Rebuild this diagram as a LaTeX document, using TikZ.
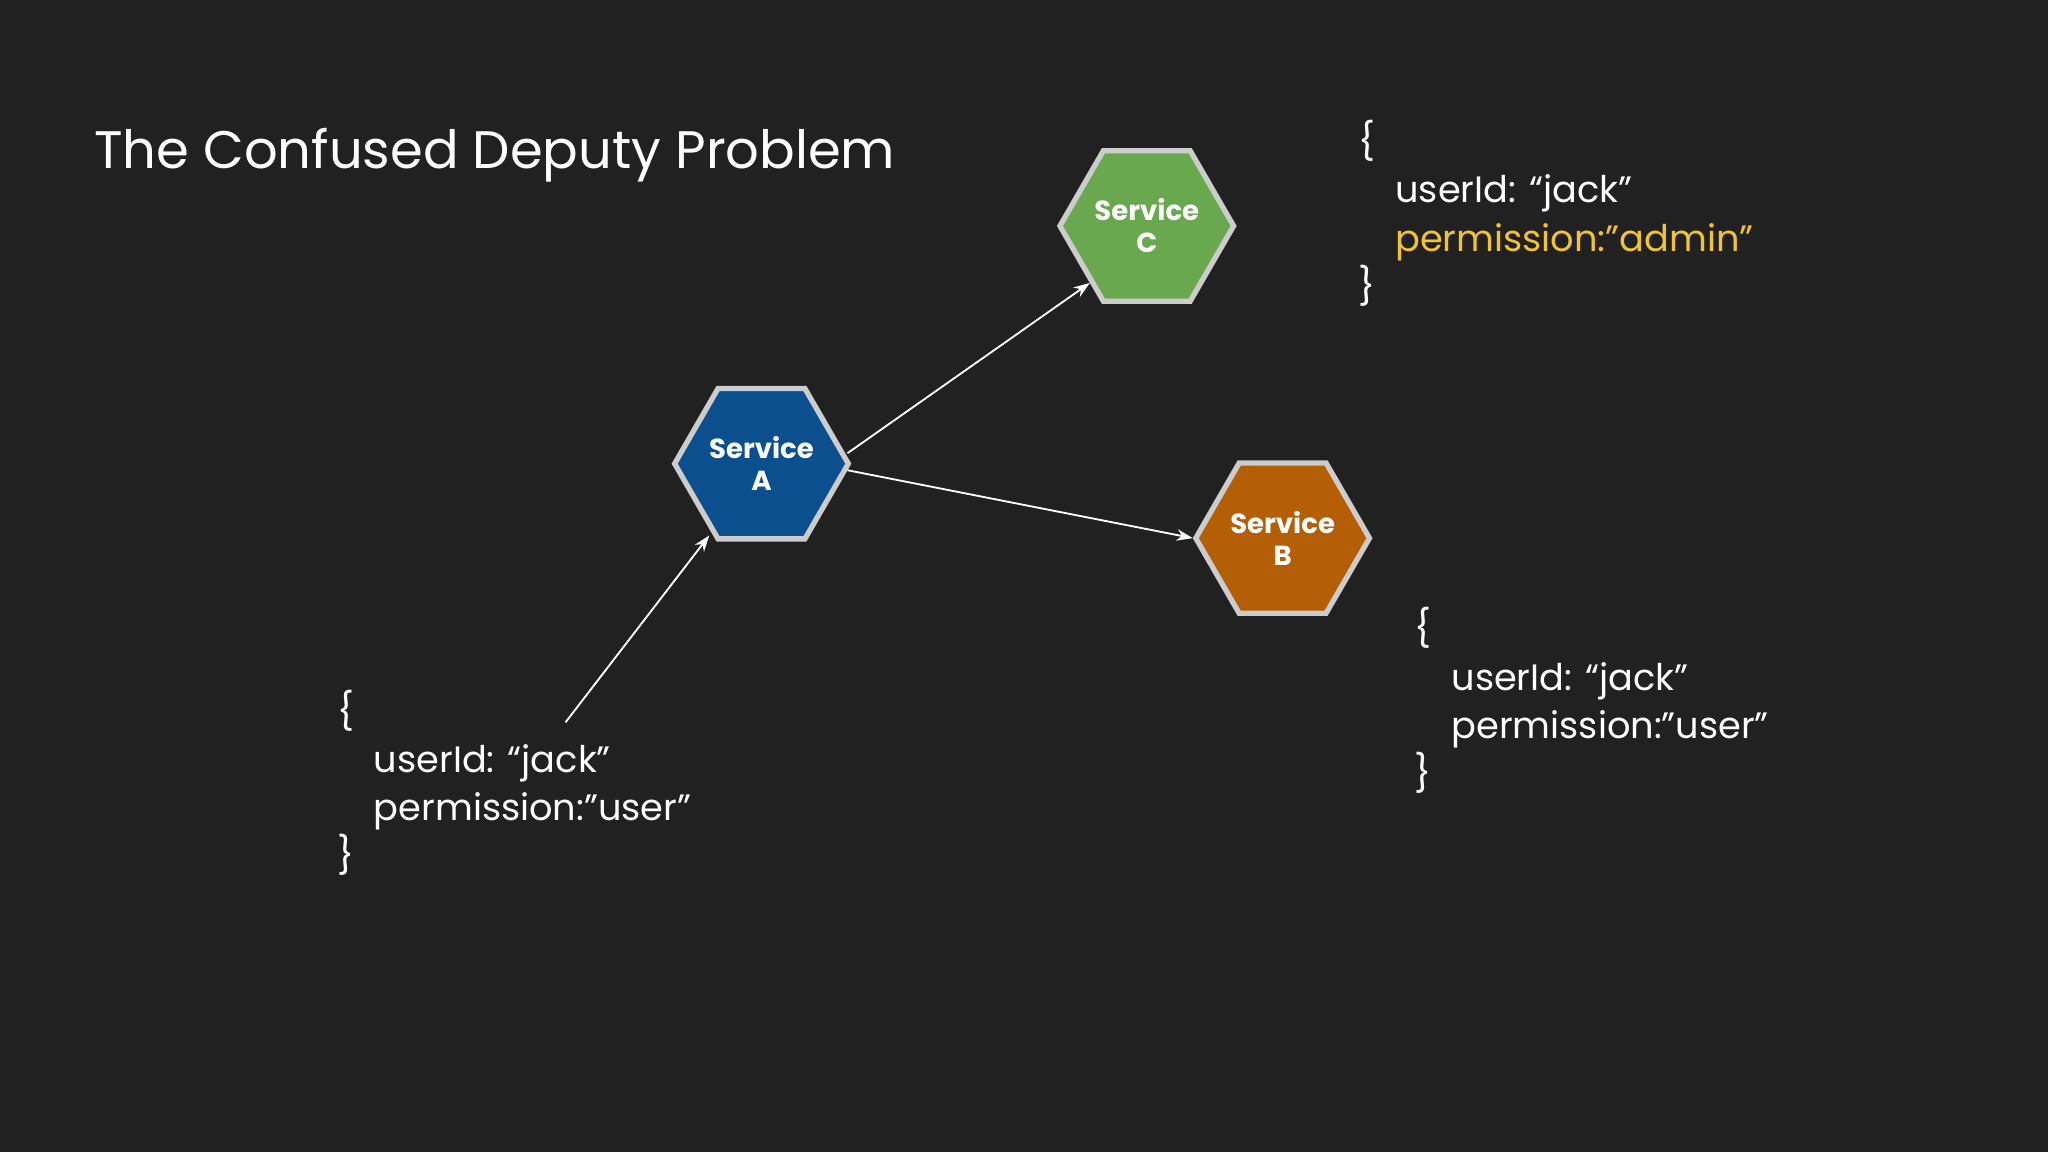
\documentclass[tikz,border=0pt]{standalone}
\usepackage{fontspec}
\setmainfont{Poppins}
\usetikzlibrary{shapes.geometric,arrows.meta}
\definecolor{bg}{HTML}{212121}
\definecolor{sa}{HTML}{0B4F8F}
\definecolor{sb}{HTML}{B45F06}
\definecolor{sc}{HTML}{6AA84F}
\definecolor{hl}{HTML}{F1C232}
\begin{document}
\begin{tikzpicture}[x=0.02cm,y=-0.02cm,
  hex/.style={regular polygon,regular polygon sides=6,minimum size=2.66cm,inner sep=0pt,
    draw=gray!40,line width=2.3pt,text=white,align=center,font=\fontsize{12}{14}\selectfont\bfseries},
  json/.style={text=white,align=left,anchor=north west,font=\fontsize{16}{21}\selectfont},
  arr/.style={white,line width=0.8pt,-{Stealth[length=7pt,width=5pt]}}]
\fill[bg] (0,0) rectangle (1568,882);
\useasboundingbox (0,0) rectangle (1568,882);
\node[anchor=west,text=white,font=\fontsize{23}{28}\selectfont] (title) at (66,119) {The Confused Deputy Problem};
\node[hex,fill=sa] (A) at (583,355) {Service\\A};
\node[hex,fill=sc] (C) at (878,173) {Service\\C};
\node[hex,fill=sb] (B) at (982,412) {Service\\B};
\node[json] (jA) at (252,522) {\{\\\quad userId: “jack”\\\quad permission:"user”\\\}};
\node[json] (jC) at (1034,86) {\{\\\quad userId: “jack”\\\quad \textcolor{hl}{permission:"admin”}\\\}};
\node[json] (jB) at (1077,459) {\{\\\quad userId: “jack”\\\quad permission:"user”\\\}};
\coordinate (s) at (433,553);
\draw[arr] (s) -- (543,410);
\draw[arr] (A.east) ++(-3,-8) -- (C.south west);
\draw[arr] (A.east) ++(-3,5) -- (B.west);
\end{tikzpicture}
\end{document}
